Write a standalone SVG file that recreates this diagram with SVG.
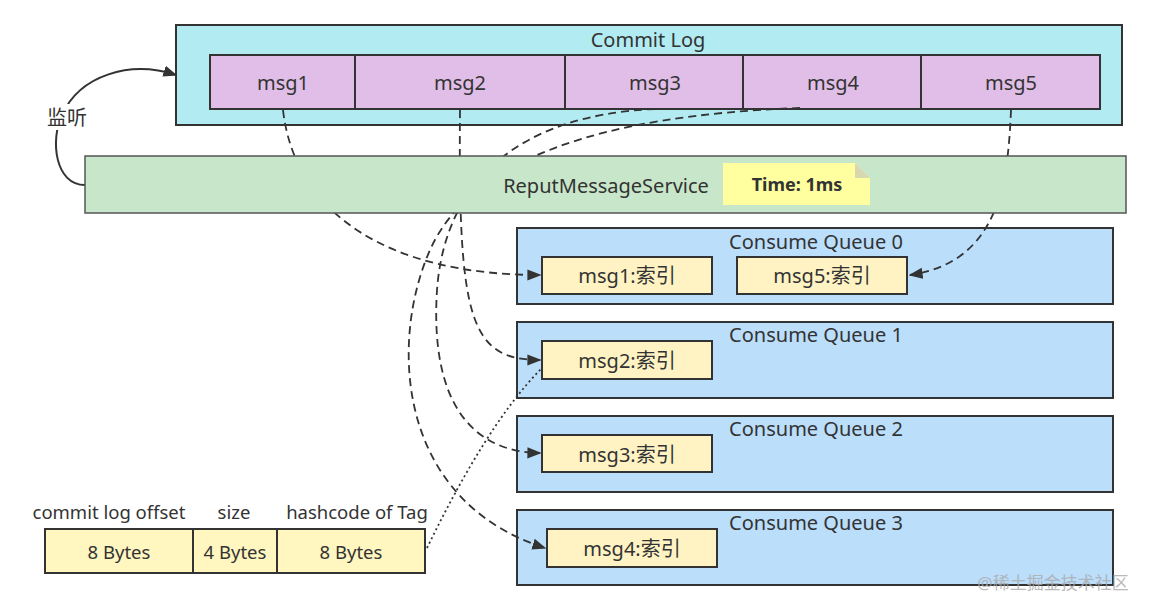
<svg xmlns="http://www.w3.org/2000/svg" width="1150" height="611" viewBox="0 0 1150 611">
<defs>
<marker id="arr" viewBox="0 0 10 10" refX="9" refY="5" markerWidth="14" markerHeight="14" markerUnits="userSpaceOnUse" orient="auto">
<path d="M0,1 L10,5 L0,9 Z" fill="#333"/>
</marker>
</defs>
<style>
text{font-family:"Noto Sans","Noto Sans CJK SC",sans-serif;fill:#333;text-anchor:middle;dominant-baseline:central}
.box{stroke:#333;stroke-width:2}
.log{fill:#b2ebf2}
.msg{fill:#e1bee7}
.svc{fill:#c8e6c9;stroke:#555;stroke-width:1.5}
.q{fill:#bbdefb}
.idx{fill:#fff3c4;stroke:#333;stroke-width:2}
.cell{fill:#fff6c0;stroke:#333;stroke-width:2}
.t18{font-size:20px}
.t17{font-size:18.5px}
.dash{fill:none;stroke:#333;stroke-width:1.8;stroke-dasharray:8 5}
.dot{fill:none;stroke:#333;stroke-width:1.8;stroke-dasharray:2 3}
</style>
<rect width="1150" height="611" fill="#fff"/>

<g id="commit-log">
<rect class="box log" x="176" y="25" width="946" height="100"/>
<text class="t18" x="648" y="39">Commit Log</text>
<rect class="box msg" x="210" y="55" width="145" height="54"/>
<rect class="box msg" x="355" y="55" width="210" height="54"/>
<rect class="box msg" x="565" y="55" width="178" height="54"/>
<rect class="box msg" x="743" y="55" width="178" height="54"/>
<rect class="box msg" x="921" y="55" width="179" height="54"/>
<text class="t18" x="283" y="82">msg1</text>
<text class="t18" x="460" y="82">msg2</text>
<text class="t18" x="655" y="82">msg3</text>
<text class="t18" x="833" y="82">msg4</text>
<text class="t18" x="1011" y="82">msg5</text>
</g>

<g id="consume-queue-0">
<rect class="box q" x="517" y="228" width="596" height="76"/>
<text class="t18" x="816" y="241">Consume Queue 0</text>
<rect class="idx" x="542" y="257" width="170" height="37"/>
<text class="t18" x="627" y="275">msg1:索引</text>
<rect class="idx" x="737" y="257" width="170" height="37"/>
<text class="t18" x="822" y="275">msg5:索引</text>
</g>
<g id="consume-queue-1">
<rect class="box q" x="517" y="322" width="596" height="76"/>
<text class="t18" x="816" y="334">Consume Queue 1</text>
<rect class="idx" x="542" y="341" width="170" height="38"/>
<text class="t18" x="627" y="360">msg2:索引</text>
</g>
<g id="consume-queue-2">
<rect class="box q" x="517" y="416" width="596" height="76"/>
<text class="t18" x="816" y="428">Consume Queue 2</text>
<rect class="idx" x="542" y="435" width="170" height="37"/>
<text class="t18" x="627" y="454">msg3:索引</text>
</g>
<g id="consume-queue-3">
<rect class="box q" x="517" y="510" width="596" height="75"/>
<text class="t18" x="816" y="522">Consume Queue 3</text>
<rect class="idx" x="547" y="529" width="170" height="38"/>
<text class="t18" x="632" y="548">msg4:索引</text>
</g>

<g id="index-format">
<text class="t17" x="109" y="511">commit log offset</text>
<text class="t17" x="234" y="511">size</text>
<text class="t17" x="357" y="511">hashcode of Tag</text>
<rect class="cell" x="45" y="529" width="148" height="44"/>
<rect class="cell" x="193" y="529" width="84" height="44"/>
<rect class="cell" x="277" y="529" width="148" height="44"/>
<text class="t17" x="119" y="551">8 Bytes</text>
<text class="t17" x="235" y="551">4 Bytes</text>
<text class="t17" x="351" y="551">8 Bytes</text>
</g>

<g id="connectors">
<path class="dash" d="M283,110 C295,215 390,275 540,275" marker-end="url(#arr)"/>
<path class="dash" d="M460,110 C458,320 470,360 540,360" marker-end="url(#arr)"/>
<path class="dash" d="M655,109 C520,115 445,180 437,290 C430,400 470,452 540,453" marker-end="url(#arr)"/>
<path class="dash" d="M800,108 C600,115 470,160 430,250 C390,340 395,500 545,548" marker-end="url(#arr)"/>
<path class="dash" d="M1011,110 C1008,180 1000,262 910,275" marker-end="url(#arr)"/>
<path class="dot" d="M427,548 C460,480 500,410 542,368"/>
<path fill="none" stroke="#333" stroke-width="2" d="M85,185 C55,185 50,140 62,115 C80,75 130,60 176,75" marker-end="url(#arr)"/>
<rect x="45" y="104" width="44" height="26" fill="#fff"/>
<text class="t18" x="67" y="117">监听</text>
</g>

<g id="reput-message-service">
<rect class="svc" x="85" y="156" width="1041" height="57"/>
<text class="t18" x="606" y="185">ReputMessageService</text>
</g>
<g id="time-note">
<path d="M723,163 L855,163 L870,178 L870,205 L723,205 Z" fill="#ffffa0"/>
<path d="M855,163 L855,178 L870,178 Z" fill="#d8d8b0"/>
<text x="797" y="184" style="font-size:18px;font-weight:bold">Time: 1ms</text>
</g>

<text x="1053" y="582" style="font-size:17px;fill:#aaa;opacity:0.8">@稀土掘金技术社区</text>
</svg>
